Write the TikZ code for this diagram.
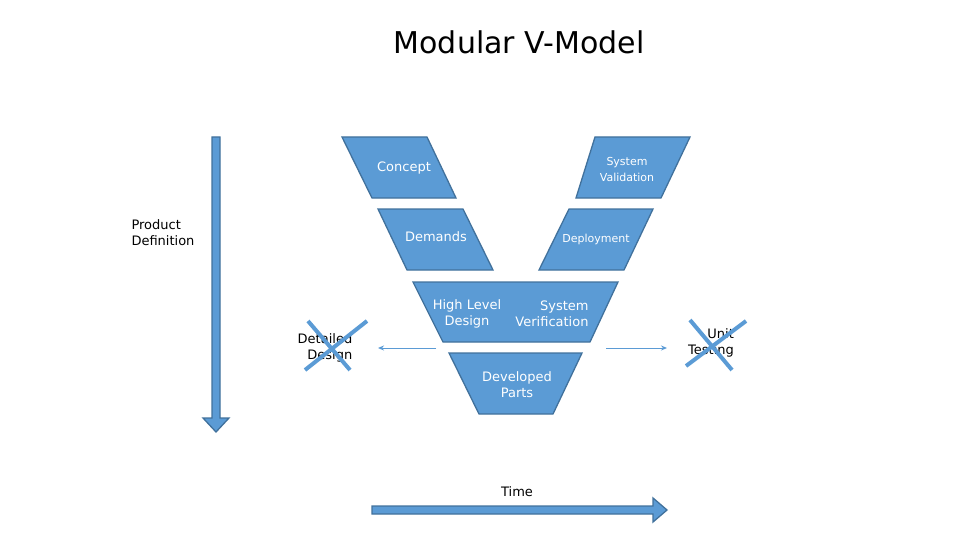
\documentclass[tikz,border=0pt]{standalone}
\usepackage{fontspec}
\setmainfont{DejaVu Sans}
\usetikzlibrary{arrows.meta}
\begin{document}
\begin{tikzpicture}[x=1pt,y=-1pt,
  blk/.style={fill=blueF,draw=blueD,line width=1.3pt},
  wt/.style={text=white,font=\fontsize{13}{16}\selectfont,align=center},
  bt/.style={text=black,font=\fontsize{13}{16}\selectfont,align=left},
  cross/.style={draw=blueF,line width=4pt},
  thin/.style={draw=blueF,line width=1pt,-{Stealth[length=6pt,width=5pt]}}]
\definecolor{blueF}{HTML}{5B9BD5}
\definecolor{blueD}{HTML}{41719C}
\useasboundingbox (0,0) rectangle (960,540);
\node (title) at (519,42) {\fontsize{30}{34}\selectfont Modular V-Model};
\draw[blk] (342,137)--(427,137)--(456,198)--(372,198)--cycle;
\draw[blk] (595,137)--(690,137)--(661,198)--(576,198)--cycle;
\draw[blk] (378,209)--(463,209)--(493,270)--(407,270)--cycle;
\draw[blk] (569,209)--(653,209)--(624,270)--(539,270)--cycle;
\draw[blk] (413,282)--(618,282)--(590,342)--(443,342)--cycle;
\draw[blk] (449,353)--(582,353)--(553,414)--(479,414)--cycle;
\node[wt] (concept) at (404,168) {Concept};
\node[wt,font=\fontsize{11}{16}\selectfont] (sysval) at (627,169) {System\\Validation};
\node[wt] (demands) at (436,237) {Demands};
\node[wt,font=\fontsize{11}{13}\selectfont] (deploy) at (596,239) {Deployment};
\node[wt] (hld) at (467,314) {High Level\\Design};
\node[wt,align=right] (sysver) at (552,314) {System\\Verification};
\node[wt] (dev) at (517,385) {Developed\\Parts};
\node[bt] (pd) at (163,233) {Product\\Definition};
\node[bt,align=right] (dd) at (325,348) {Detailed\\Design};
\node[bt,align=right] (ut) at (711,343) {Unit\\Testing};
\node[bt] (time) at (517,492) {Time};
\coordinate (la) at (436,348); \coordinate (lb) at (378,348);
\coordinate (ra) at (606,348); \coordinate (rb) at (667,348);
\draw[thin] (la)--(lb);
\draw[thin] (ra)--(rb);
\draw[cross] (308,321)--(350,370) (305,370)--(367,321);
\draw[cross] (690,320)--(732,370) (686,366)--(746,321);
\draw[blk] (212,137)--(220,137)--(220,418)--(229,418)--(216,432)--(203,418)--(212,418)--cycle;
\draw[blk] (372,506)--(653,506)--(653,498)--(667,510)--(653,522)--(653,514)--(372,514)--cycle;
\end{tikzpicture}
\end{document}
